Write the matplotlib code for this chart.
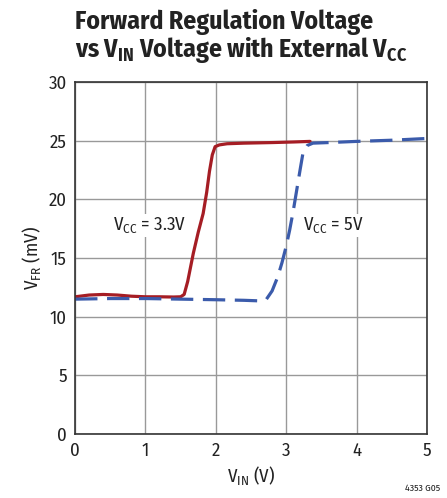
import numpy as np
import matplotlib.pyplot as plt

# Vcc = 3.3V curve
vin_33 = [0.0, 0.2, 0.4, 0.6, 0.8, 1.0, 1.2, 1.4, 1.5, 1.55, 1.6, 1.68, 1.75, 1.82, 1.87, 1.91, 1.95, 1.99, 2.05, 2.16, 2.4, 2.8, 3.1, 3.34]
vfr_33 = [11.7, 11.85, 11.9, 11.85, 11.75, 11.7, 11.7, 11.68, 11.7, 11.9, 13.0, 15.4, 17.2, 18.8, 20.6, 22.4, 23.8, 24.5, 24.65, 24.75, 24.8, 24.85, 24.9, 24.95]

# Vcc = 5V curve
vin_5 = [0.0, 0.5, 1.0, 1.5, 2.0, 2.4, 2.63, 2.72, 2.8, 2.88, 2.94, 3.0, 3.05, 3.1, 3.15, 3.2, 3.24, 3.3, 3.38, 3.6, 4.0, 4.5, 5.0]
vfr_5 = [11.5, 11.55, 11.55, 11.5, 11.45, 11.4, 11.35, 11.5, 12.2, 13.4, 14.6, 16.0, 17.4, 19.0, 20.8, 22.6, 24.0, 24.6, 24.8, 24.85, 24.95, 25.05, 25.2]

font = 'Fira Sans Condensed'
plt.rcParams['font.family'] = [font, 'Liberation Sans', 'DejaVu Sans']
plt.rcParams['mathtext.fontset'] = 'custom'
plt.rcParams['mathtext.rm'] = font
plt.rcParams['mathtext.bf'] = font + ':bold'
plt.rcParams['mathtext.default'] = 'regular'

fig = plt.figure(figsize=(4.47, 4.98), dpi=100)
ax = fig.add_axes([0.168, 0.1285, 0.787, 0.7065])

ax.plot(vin_33, vfr_33, color='#a51d24', lw=2.3, solid_capstyle='round')
ax.plot(vin_5, vfr_5, color='#3b5bab', lw=2.3, dashes=(7, 3))

ax.set_xlim(0, 5)
ax.set_ylim(0, 30)
ax.set_xticks(range(0, 6))
ax.set_yticks(range(0, 31, 5))
ax.grid(True, color='#999999', lw=1)
ax.tick_params(length=0, labelsize=13.5, colors='#222222', pad=6)
for s in ax.spines.values():
    s.set_color('#333333')
    s.set_linewidth(1.2)

ax.set_xlabel('$V_{IN}$ (V)', fontsize=13.5, color='#222222', labelpad=3)
ax.set_ylabel('$V_{FR}$ (mV)', fontsize=13.5, color='#222222', labelpad=4)

ax.text(0.54, 17.8, '$V_{CC}$ = 3.3V', fontsize=13.5, color='#222222', va='center',
        bbox=dict(facecolor='white', edgecolor='none', pad=1))
ax.text(3.24, 17.8, '$V_{CC}$ = 5V', fontsize=13.5, color='#222222', va='center',
        bbox=dict(facecolor='white', edgecolor='none', pad=1))

fig.text(0.168, 0.982, 'Forward Regulation Voltage\nvs $\\mathbf{V_{IN}}$ Voltage with External $\\mathbf{V_{CC}}$',
         fontsize=18.5, fontweight='bold', color='#222222', va='top', ha='left', linespacing=0.98)
fig.text(0.985, 0.01, '4353 G05', fontsize=7, color='#222222', ha='right', va='bottom')

fig.savefig('out.png', dpi=100)
